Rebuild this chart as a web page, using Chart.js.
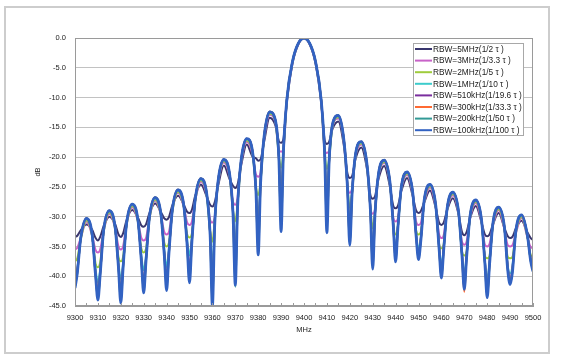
<!DOCTYPE html>
<html>
<head>
<meta charset="utf-8">
<script src="https://cdn.jsdelivr.net/npm/chart.js@4.4.1/dist/chart.umd.min.js"></script>
<style>
  body { margin: 0; background: #fff; }
  #wrap { position: relative; width: 564px; height: 360px; }
  #frame { position: absolute; left: 4px; top: 6px; width: 542px; height: 344px; border: 2px solid #cdcdcd; }
  #c { position: absolute; left: 0; top: 0; }
</style>
</head>
<body>
<div id="wrap">
  <div id="frame"></div>
  <canvas id="c" width="564" height="360"></canvas>
</div>
<script>
// frequency points (MHz)
var freqs = [
  9300,9301,9302.5,9305,9307.5,9309,
  9310,9311,9312.5,9315,9317.5,9319,
  9320,9321,9322.5,9325,9327.5,9329,
  9330,9331,9332.5,9335,9337.5,9339,
  9340,9341,9342.5,9345,9347.5,9349,
  9350,9351,9352.5,9355,9357.5,9359,
  9360,9361,9362.5,9365,9367.5,9369,
  9370,9371,9372.5,9375,9377.5,9379,
  9380,9381,9382.5,9385,9387.5,9389,
  9390,9391,9392.5,9395,9397.5,9400,9402.5,9405,9407.5,9409,
  9410,9411,9412.5,9415,9417.5,9419,
  9420,9421,9422.5,9425,9427.5,9429,
  9430,9431,9432.5,9435,9437.5,9439,
  9440,9441,9442.5,9445,9447.5,9449,
  9450,9451,9452.5,9455,9457.5,9459,
  9460,9461,9462.5,9465,9467.5,9469,
  9470,9471,9472.5,9475,9477.5,9479,
  9480,9481,9482.5,9485,9487.5,9489,
  9490,9491,9492.5,9495,9497.5,9499,
  9500
];

var rbw5M = [
  -33.4,-33.2,-32.3,-31.3,-32.2,-33.6,
  -34.0,-33.4,-31.6,-30.0,-31.2,-33.0,
  -33.4,-32.8,-30.6,-28.9,-30.2,-31.5,
  -31.7,-31.3,-29.4,-27.8,-29.2,-30.3,
  -30.5,-30.1,-28.1,-26.5,-28.0,-29.2,
  -29.4,-28.9,-26.5,-24.6,-26.6,-28.0,
  -28.3,-27.6,-24.8,-21.4,-23.7,-24.8,
  -25.2,-24.6,-21.5,-17.9,-19.9,-20.2,
  -20.6,-20.4,-17.6,-13.4,-14.7,-17.3,
  -17.6,-17.0,-10.8,-4.2,-1.1,-0.1,-1.1,-4.2,-10.8,-17.1,
  -17.8,-17.4,-15.2,-14.0,-18.3,-22.8,
  -23.5,-23.2,-20.3,-18.4,-22.0,-26.4,
  -27.0,-26.6,-23.7,-21.5,-24.9,-28.2,
  -28.6,-28.2,-25.7,-23.5,-26.6,-29.0,
  -29.4,-29.1,-27.6,-25.6,-28.5,-31.0,
  -31.4,-31.0,-28.9,-26.9,-29.6,-32.6,
  -33.1,-32.6,-30.3,-28.2,-30.9,-33.0,
  -33.3,-33.0,-31.3,-29.4,-31.9,-33.3,
  -33.6,-33.4,-32.0,-30.7,-32.6,-33.6,
  -33.9
];

var rbw3M = [
  -35.5,-35.2,-33.6,-30.8,-33.2,-35.6,
  -36.0,-35.5,-32.4,-29.5,-31.9,-35.0,
  -35.5,-35.0,-31.3,-28.4,-30.8,-33.6,
  -34.0,-33.6,-30.2,-27.3,-29.7,-32.6,
  -33.0,-32.6,-28.9,-26.0,-28.4,-31.0,
  -31.4,-30.9,-27.3,-24.1,-26.5,-30.5,
  -31.0,-30.0,-24.4,-20.9,-23.3,-27.5,
  -28.0,-26.8,-21.2,-17.4,-19.5,-22.9,
  -23.3,-22.6,-17.2,-12.9,-14.2,-18.8,
  -19.1,-18.7,-10.6,-4.1,-1.0,-0.05,-1.0,-4.1,-10.6,-18.8,
  -19.3,-18.9,-14.8,-13.5,-17.9,-24.9,
  -26.0,-25.3,-19.9,-17.9,-21.6,-28.5,
  -29.5,-28.8,-23.3,-21.0,-24.5,-30.2,
  -30.8,-30.3,-25.4,-23.0,-26.4,-30.9,
  -31.4,-31.1,-27.6,-25.1,-28.4,-33.0,
  -33.6,-33.1,-28.9,-26.4,-29.6,-34.2,
  -34.7,-34.2,-30.3,-27.7,-30.9,-34.7,
  -35.0,-34.6,-31.5,-28.9,-32.1,-34.8,
  -35.0,-34.8,-32.8,-30.2,-33.4,-35.1,
  -35.3
];

var rbw2M = [
  -37.5,-37.0,-33.8,-30.6,-33.3,-37.9,
  -38.5,-37.6,-32.6,-29.3,-32.0,-36.8,
  -37.5,-36.7,-31.5,-28.2,-30.9,-35.4,
  -36.0,-35.4,-30.4,-27.1,-29.8,-34.4,
  -35.0,-34.4,-29.2,-25.8,-28.4,-33.0,
  -33.5,-32.9,-27.4,-23.9,-26.4,-32.4,
  -34.2,-30.6,-24.3,-20.7,-23.1,-29.0,
  -30.8,-27.8,-21.0,-17.2,-19.3,-24.9,
  -26.4,-24.2,-17.0,-12.7,-14.0,-19.7,
  -21.8,-19.1,-10.5,-4.0,-0.95,0,-0.95,-4.0,-10.5,-19.1,
  -22.0,-20.2,-14.6,-13.3,-17.7,-25.0,
  -28.5,-25.9,-19.8,-17.7,-21.5,-28.6,
  -32.0,-29.2,-23.1,-20.8,-24.4,-31.2,
  -33.0,-31.5,-25.3,-22.8,-26.3,-32.4,
  -33.0,-32.6,-27.5,-24.9,-28.3,-34.6,
  -35.3,-34.6,-28.9,-26.2,-29.5,-35.9,
  -36.5,-35.8,-30.2,-27.5,-30.8,-36.6,
  -37.0,-36.6,-31.4,-28.7,-32.0,-36.8,
  -37.0,-36.8,-32.7,-30.0,-33.3,-36.4,
  -36.7
];

var rbw1M = [
  -40.0,-38.8,-33.7,-30.4,-33.1,-38.9,
  -41.0,-38.9,-32.4,-29.1,-31.8,-37.9,
  -40.5,-37.9,-31.3,-28.0,-30.7,-36.6,
  -39.0,-36.6,-30.2,-26.9,-29.6,-35.6,
  -38.5,-35.5,-29.0,-25.6,-28.2,-34.0,
  -36.5,-33.7,-27.2,-23.7,-26.2,-32.6,
  -38.5,-31.0,-24.1,-20.5,-22.9,-28.9,
  -35.0,-28.0,-20.8,-17.0,-19.1,-25.2,
  -30.0,-24.5,-16.9,-12.5,-13.9,-19.8,
  -25.5,-19.1,-10.4,-3.9,-0.9,0,-0.9,-3.9,-10.4,-19.1,
  -25.5,-20.4,-14.5,-13.1,-17.5,-25.0,
  -31.5,-25.9,-19.6,-17.5,-21.3,-28.7,
  -35.5,-29.5,-23.0,-20.6,-24.2,-31.4,
  -35.5,-31.8,-25.1,-22.6,-26.1,-33.0,
  -35.5,-33.6,-27.3,-24.7,-28.1,-35.1,
  -38.0,-35.3,-28.7,-26.0,-29.3,-36.4,
  -39.5,-36.6,-30.0,-27.3,-30.6,-37.5,
  -40.5,-37.8,-31.2,-28.5,-31.8,-38.3,
  -39.5,-38.3,-32.5,-29.8,-33.1,-37.2,
  -38.0
];

var rbw510k = [
  -41.0,-39.0,-33.6,-30.3,-33.0,-39.6,
  -42.5,-39.3,-32.3,-29.0,-31.7,-38.3,
  -42.5,-38.2,-31.2,-27.9,-30.6,-37.2,
  -41.0,-37.1,-30.1,-26.8,-29.5,-36.1,
  -40.5,-35.9,-28.9,-25.5,-28.1,-34.6,
  -39.0,-34.1,-27.1,-23.6,-26.1,-32.6,
  -42.0,-31.2,-24.0,-20.4,-22.8,-29.2,
  -38.5,-28.1,-20.7,-16.9,-19.0,-25.3,
  -33.5,-24.5,-16.8,-12.4,-13.8,-19.8,
  -28.5,-19.2,-10.4,-3.9,-0.9,0,-0.9,-3.9,-10.4,-19.2,
  -28.7,-20.4,-14.4,-13.0,-17.4,-25.1,
  -33.3,-25.9,-19.5,-17.4,-21.2,-28.7,
  -37.5,-29.4,-22.9,-20.5,-24.1,-31.4,
  -36.8,-31.7,-25.0,-22.5,-26.0,-33.2,
  -36.5,-33.8,-27.2,-24.6,-28.0,-35.0,
  -39.5,-35.2,-28.6,-25.9,-29.2,-36.2,
  -41.0,-36.5,-29.9,-27.2,-30.5,-37.5,
  -42.5,-37.8,-31.1,-28.4,-31.7,-38.5,
  -40.7,-38.7,-32.4,-29.7,-33.0,-37.1,
  -38.8
];

var rbw300k = [
  -41.6,-39.3,-33.6,-30.3,-33.0,-39.8,
  -43.4,-39.5,-32.3,-29.0,-31.7,-38.5,
  -43.7,-38.4,-31.2,-27.9,-30.6,-37.4,
  -42.1,-37.3,-30.1,-26.8,-29.5,-36.3,
  -41.6,-36.1,-28.9,-25.5,-28.1,-34.8,
  -40.3,-34.3,-27.1,-23.6,-26.1,-32.8,
  -43.8,-31.3,-24.0,-20.4,-22.8,-29.3,
  -40.5,-28.2,-20.7,-16.9,-19.0,-25.4,
  -35.2,-24.6,-16.8,-12.4,-13.8,-19.8,
  -30.8,-19.2,-10.4,-3.9,-0.9,0,-0.9,-3.9,-10.4,-19.2,
  -31.2,-20.4,-14.4,-13.0,-17.4,-25.2,
  -34.3,-26.0,-19.5,-17.4,-21.2,-28.8,
  -38.3,-29.5,-22.9,-20.5,-24.1,-31.5,
  -37.3,-31.8,-25.0,-22.5,-26.0,-33.3,
  -36.9,-33.9,-27.2,-24.6,-28.0,-35.2,
  -40.0,-35.4,-28.6,-25.9,-29.2,-36.4,
  -42.6,-36.7,-29.9,-27.2,-30.5,-37.7,
  -43.2,-38.0,-31.1,-28.4,-31.7,-38.8,
  -41.1,-39.0,-32.4,-29.7,-33.0,-37.3,
  -39.0
];

var rbw200k = [
  -41.8,-39.4,-33.6,-30.3,-33.0,-39.9,
  -43.8,-39.6,-32.3,-29.0,-31.7,-38.6,
  -44.2,-38.5,-31.2,-27.9,-30.6,-37.5,
  -42.5,-37.4,-30.1,-26.8,-29.5,-36.4,
  -42.1,-36.2,-28.9,-25.5,-28.1,-34.9,
  -40.8,-34.4,-27.1,-23.6,-26.1,-32.9,
  -44.6,-31.4,-24.0,-20.4,-22.8,-29.4,
  -41.8,-28.3,-20.7,-16.9,-19.0,-25.5,
  -36.0,-24.6,-16.8,-12.4,-13.8,-19.9,
  -31.8,-19.2,-10.4,-3.9,-0.9,0,-0.9,-3.9,-10.4,-19.2,
  -32.1,-20.5,-14.4,-13.0,-17.4,-25.2,
  -34.6,-26.0,-19.5,-17.4,-21.2,-28.8,
  -38.6,-29.5,-22.9,-20.5,-24.1,-31.5,
  -37.5,-31.8,-25.0,-22.5,-26.0,-33.3,
  -37.1,-34.0,-27.2,-24.6,-28.0,-35.3,
  -40.2,-35.5,-28.6,-25.9,-29.2,-36.5,
  -42.2,-36.8,-29.9,-27.2,-30.5,-37.8,
  -43.4,-38.1,-31.1,-28.4,-31.7,-38.9,
  -41.3,-39.2,-32.4,-29.7,-33.0,-37.4,
  -39.1
];

var rbw100k = [
  -42.0,-39.5,-33.6,-30.3,-33.0,-40.0,
  -44.0,-39.7,-32.3,-29.0,-31.7,-38.7,
  -44.5,-38.6,-31.2,-27.9,-30.6,-37.6,
  -42.8,-37.5,-30.1,-26.8,-29.5,-36.5,
  -42.4,-36.3,-28.9,-25.5,-28.1,-35.0,
  -41.1,-34.5,-27.1,-23.6,-26.1,-33.0,
  -45.0,-31.5,-24.0,-20.4,-22.8,-29.5,
  -41.5,-28.4,-20.7,-16.9,-19.0,-25.6,
  -36.4,-24.7,-16.8,-12.4,-13.8,-19.9,
  -32.5,-19.2,-10.4,-3.9,-0.9,0,-0.9,-3.9,-10.4,-19.2,
  -32.7,-20.5,-14.4,-13.0,-17.4,-25.3,
  -34.8,-26.1,-19.5,-17.4,-21.2,-28.9,
  -38.8,-29.6,-22.9,-20.5,-24.1,-31.6,
  -37.6,-31.9,-25.0,-22.5,-26.0,-33.4,
  -37.2,-34.1,-27.2,-24.6,-28.0,-35.4,
  -40.3,-35.6,-28.6,-25.9,-29.2,-36.6,
  -42.2,-36.9,-29.9,-27.2,-30.5,-37.9,
  -43.6,-38.2,-31.1,-28.4,-31.7,-39.1,
  -41.4,-39.4,-32.4,-29.7,-33.0,-37.5,
  -39.2
];

var seriesNames = [
  'RBW=5MHz(1/2 τ )', 'RBW=3MHz(1/3.3 τ )', 'RBW=2MHz(1/5 τ )', 'RBW=1MHz(1/10 τ )',
  'RBW=510kHz(1/19.6 τ )', 'RBW=300kHz(1/33.3 τ )', 'RBW=200kHz(1/50 τ )', 'RBW=100kHz(1/100 τ )'
];
var seriesData = [rbw5M, rbw3M, rbw2M, rbw1M, rbw510k, rbw300k, rbw200k, rbw100k];
var colors = ['#39366e', '#c862c8', '#9fcc3c', '#3ccccc', '#7a2e9e', '#ff6a33', '#339a96', '#3262c2'];

var yTicks = [0, -5, -10, -15, -20, -25, -30, -35, -40, -45];

var FONT = '"Liberation Sans", Arial, sans-serif';

var extras = {
  id: 'extras',
  afterDraw: function (chart) {
    var ctx = chart.ctx, a = chart.chartArea, x = chart.scales.x;
    ctx.save();
    ctx.strokeStyle = '#9a9a9a';
    ctx.lineWidth = 1;
    ctx.strokeRect(a.left + 0.5, a.top + 0.5, a.right - a.left - 1, a.bottom - a.top - 1);
    // small inward ticks on the x axis
    for (var v = 9300; v <= 9500; v += 5) {
      var px = Math.round(x.getPixelForValue(v)) + 0.5;
      ctx.beginPath();
      ctx.moveTo(px, a.bottom);
      ctx.lineTo(px, a.bottom - 3);
      ctx.stroke();
    }
    // axis titles
    ctx.fillStyle = '#222';
    ctx.font = '7.5px ' + FONT;
    ctx.textAlign = 'center';
    ctx.textBaseline = 'middle';
    ctx.fillText('MHz', (a.left + a.right) / 2, 330);
    ctx.save();
    ctx.translate(38, (a.top + a.bottom) / 2);
    ctx.rotate(-Math.PI / 2);
    ctx.fillText('dB', 0, 0);
    ctx.restore();

    // legend box
    var lx = 413, ly = 43, lw = 110, lh = 92;
    ctx.fillStyle = '#fff';
    ctx.fillRect(lx, ly, lw, lh);
    ctx.strokeStyle = '#a8a8a8';
    ctx.strokeRect(lx + 0.5, ly + 0.5, lw, lh);
    ctx.textAlign = 'left';
    ctx.font = '8.3px ' + FONT;
    for (var i = 0; i < seriesNames.length; i++) {
      var yy = ly + 6 + i * 11.6;
      ctx.strokeStyle = colors[i];
      ctx.lineWidth = 2;
      ctx.beginPath();
      ctx.moveTo(lx + 2, yy);
      ctx.lineTo(lx + 19, yy);
      ctx.stroke();
      ctx.fillStyle = '#222';
      ctx.fillText(seriesNames[i], lx + 20, yy + 0.5);
    }
    ctx.restore();
  }
};

var datasets = seriesData.map(function (arr, i) {
  return {
    label: seriesNames[i],
    data: freqs.map(function (f, j) { return { x: f, y: arr[j] }; }),
    borderColor: colors[i],
    backgroundColor: colors[i],
    borderWidth: i === 7 ? 2.8 : 2,
    pointRadius: 0,
    cubicInterpolationMode: 'monotone',
    order: 7 - i
  };
});

new Chart(document.getElementById('c'), {
  type: 'line',
  data: { datasets: datasets },
  options: {
    responsive: false,
    animation: false,
    layout: { padding: { top: 38, right: 31, left: 0, bottom: 0 } },
    plugins: { legend: { display: false }, tooltip: { enabled: false } },
    scales: {
      x: {
        type: 'linear',
        min: 9300,
        max: 9500,
        afterFit: function (s) { s.height = 54; },
        ticks: {
          stepSize: 10,
          autoSkip: false,
          maxRotation: 0,
          padding: 7,
          color: '#222',
          font: { family: FONT, size: 7.5 },
          callback: function (v) { return String(v); }
        },
        grid: { drawOnChartArea: false, drawTicks: false },
        border: { color: '#9a9a9a' }
      },
      y: {
        min: -45,
        max: 0,
        afterFit: function (s) { s.width = 75; },
        afterBuildTicks: function (s) { s.ticks = yTicks.map(function (v) { return { value: v }; }); },
        ticks: {
          padding: 9,
          color: '#222',
          font: { family: FONT, size: 7.5 },
          callback: function (v) { return Number(v).toFixed(1); }
        },
        grid: { color: '#c2c2c2', drawTicks: false },
        border: { color: '#9a9a9a' }
      }
    }
  },
  plugins: [extras]
});
</script>
</body>
</html>
